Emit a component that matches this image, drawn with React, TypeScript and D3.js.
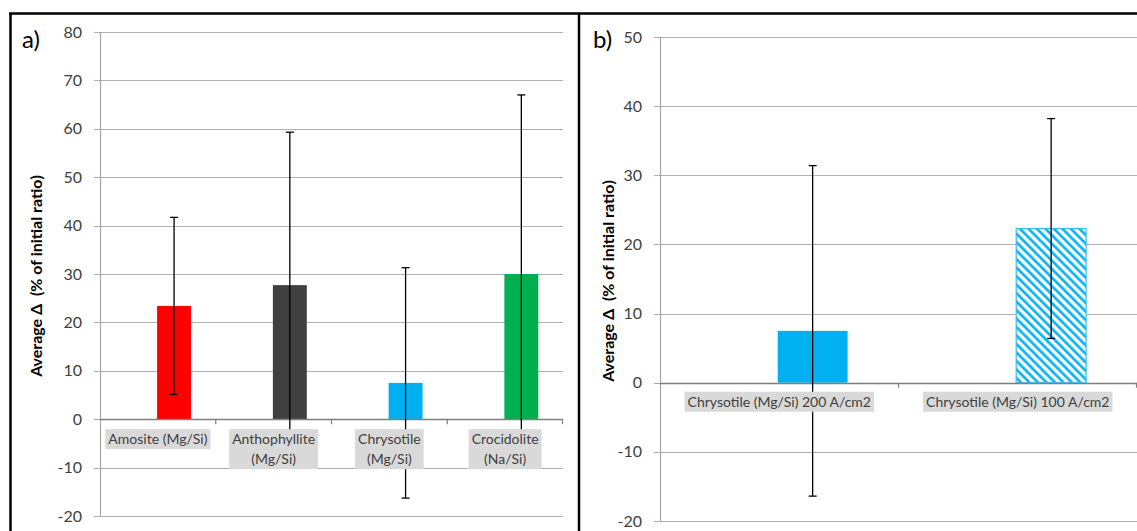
import React, { useEffect, useRef } from "react";
import * as d3 from "d3";

// ---------- data ----------
const labelsA: string[][] = [
  ["Amosite (Mg/Si)"],
  ["Anthophyllite", "(Mg/Si)"],
  ["Chrysotile", "(Mg/Si)"],
  ["Crocidolite", "(Na/Si)"],
];
const valuesA = [23.4, 27.7, 7.5, 30.0];
const errorsA = [18.3, 31.6, 23.8, 37.0];
const colorsA = ["#ff0000", "#404040", "#00b0f0", "#00b050"];
const ticksA = [-20, -10, 0, 10, 20, 30, 40, 50, 60, 70, 80];

const labelsB: string[][] = [
  ["Chrysotile (Mg/Si) 200 A/cm2"],
  ["Chrysotile (Mg/Si) 100 A/cm2"],
];
const valuesB = [7.5, 22.3];
const errorsB = [23.9, 15.9];
const stylesB = ["solid", "hatch"];
const ticksB = [-20, -10, 0, 10, 20, 30, 40, 50];

const yTitle = "Average \u0394  (% of initial ratio)";

const FONT = "Lato, 'Noto Sans', sans-serif";

type Panel = {
  id: string;
  letter: string;
  letterX: number;
  titleX: number;
  x0: number;
  x1: number;
  yTopPx: number;
  yBotPx: number;
  ticks: number[];
  labels: string[][];
  values: number[];
  errors: number[];
  fills: string[];
  labelGap: number;
};

export default function App() {
  const ref = useRef<SVGSVGElement>(null);

  useEffect(() => {
    const svg = d3.select(ref.current);
    svg.selectAll("*").remove();

    const defs = svg.append("defs");
    const pat = defs
      .append("pattern")
      .attr("id", "hatch")
      .attr("patternUnits", "userSpaceOnUse")
      .attr("width", 6)
      .attr("height", 6)
      .attr("patternTransform", "rotate(-45)");
    pat.append("rect").attr("width", 6).attr("height", 6).attr("fill", "#fff");
    pat
      .append("line")
      .attr("x1", 1.5)
      .attr("y1", 0)
      .attr("x2", 1.5)
      .attr("y2", 6)
      .attr("stroke", "#00b0f0")
      .attr("stroke-width", 2.6);

    const panels: Panel[] = [
      {
        id: "a",
        letter: "a)",
        letterX: 22,
        titleX: 36,
        x0: 100,
        x1: 563,
        yTopPx: 32,
        yBotPx: 516,
        ticks: ticksA,
        labels: labelsA,
        values: valuesA,
        errors: errorsA,
        fills: colorsA,
        labelGap: 10,
      },
      {
        id: "b",
        letter: "b)",
        letterX: 593,
        titleX: 608,
        x0: 660,
        x1: 1137,
        yTopPx: 37,
        yBotPx: 521,
        ticks: ticksB,
        labels: labelsB,
        values: valuesB,
        errors: errorsB,
        fills: stylesB.map((s) => (s === "hatch" ? "url(#hatch)" : "#00b0f0")),
        labelGap: 9,
      },
    ];

    panels.forEach((p) => {
      const g = svg.append("g");
      const y = d3
        .scaleLinear()
        .domain([p.ticks[0], p.ticks[p.ticks.length - 1]])
        .range([p.yBotPx, p.yTopPx]);
      const x = d3
        .scaleBand<number>()
        .domain(p.values.map((_, i) => i))
        .range([p.x0, p.x1])
        .padding(0);
      const bw = x.bandwidth();
      const barW = bw * 0.293;
      const barCenter = (i: number) => (x(i) as number) + bw * 0.5 + bw * 0.14;

      // gridlines
      g.selectAll("line.grid")
        .data(p.ticks.filter((t) => t !== 0))
        .join("line")
        .attr("x1", p.x0 - 6)
        .attr("x2", p.x1)
        .attr("y1", (d) => Math.round(y(d)) + 0.5)
        .attr("y2", (d) => Math.round(y(d)) + 0.5)
        .attr("stroke", "#b0b0b0")
        .attr("stroke-width", 1.2);

      // y axis line
      g.append("line")
        .attr("x1", p.x0 + 0.5)
        .attr("x2", p.x0 + 0.5)
        .attr("y1", y(p.ticks[p.ticks.length - 1]))
        .attr("y2", y(p.ticks[0]))
        .attr("stroke", "#a6a6a6")
        .attr("stroke-width", 1.2);

      // tick labels
      g.selectAll("text.tick")
        .data(p.ticks)
        .join("text")
        .attr("x", p.x0 - 18)
        .attr("y", (d) => y(d))
        .attr("dy", "0.35em")
        .attr("text-anchor", "end")
        .attr("font-family", FONT)
        .attr("font-size", 16)
        .attr("fill", "#404040")
        .text((d) => String(d));

      // bars
      g.selectAll("rect.bar")
        .data(p.values)
        .join("rect")
        .attr("x", (_, i) => barCenter(i) - barW / 2)
        .attr("width", barW)
        .attr("y", (d) => y(Math.max(0, d)))
        .attr("height", (d) => Math.abs(y(d) - y(0)))
        .attr("fill", (_, i) => p.fills[i])
        .attr("stroke", (_, i) => (p.fills[i].startsWith("url") ? "#33bff2" : "none"))
        .attr("stroke-width", 1.2);

      // zero axis
      g.append("line")
        .attr("x1", p.x0)
        .attr("x2", p.x1)
        .attr("y1", Math.round(y(0)) + 0.5)
        .attr("y2", Math.round(y(0)) + 0.5)
        .attr("stroke", "#7f7f7f")
        .attr("stroke-width", 1.4);
      g.append("line")
        .attr("x1", p.x0 - 6)
        .attr("x2", p.x0)
        .attr("y1", Math.round(y(0)) + 0.5)
        .attr("y2", Math.round(y(0)) + 0.5)
        .attr("stroke", "#a6a6a6");
      const bounds = p.values.map((_, i) => x(i) as number).concat([p.x1 - 0.5]);
      g.selectAll("line.ctick")
        .data(bounds.slice(1))
        .join("line")
        .attr("x1", (d) => d)
        .attr("x2", (d) => d)
        .attr("y1", y(0))
        .attr("y2", y(0) + 5)
        .attr("stroke", "#7f7f7f")
        .attr("stroke-width", 1.2);

      // error bars
      const eb = g
        .selectAll("g.err")
        .data(p.values.map((v, i) => ({ v, e: p.errors[i], i })))
        .join("g");
      eb.append("line")
        .attr("x1", (d) => barCenter(d.i))
        .attr("x2", (d) => barCenter(d.i))
        .attr("y1", (d) => y(d.v + d.e))
        .attr("y2", (d) => y(d.v - d.e))
        .attr("stroke", "#000")
        .attr("stroke-width", 1.3);
      [1, -1].forEach((s) => {
        eb.append("line")
          .attr("x1", (d) => barCenter(d.i) - 4)
          .attr("x2", (d) => barCenter(d.i) + 4)
          .attr("y1", (d) => y(d.v + s * d.e))
          .attr("y2", (d) => y(d.v + s * d.e))
          .attr("stroke", "#000")
          .attr("stroke-width", 1.3);
      });

      // category labels with grey background
      p.labels.forEach((lines, i) => {
        const cx = (x(i) as number) + bw / 2;
        const top = y(0) + p.labelGap;
        const lg = g.append("g");
        const rect = lg.append("rect").attr("fill", "#d9d9d9");
        const texts = lines.map((ln, k) =>
          lg
            .append("text")
            .attr("x", cx)
            .attr("y", top + 10 + k * 20)
            .attr("dy", "0.35em")
            .attr("text-anchor", "middle")
            .attr("font-family", FONT)
            .attr("font-size", 14)
            .attr("fill", "#404040")
            .text(ln)
        );
        const maxW = d3.max(texts, (t) => (t.node() as SVGTextElement).getComputedTextLength()) || 0;
        rect
          .attr("x", cx - maxW / 2 - 3)
          .attr("width", maxW + 6)
          .attr("y", top)
          .attr("height", lines.length * 20);
      });

      // y title
      const midY = (p.yTopPx + p.yBotPx) / 2 + 2;
      g.append("text")
        .attr("transform", `translate(${p.titleX},${midY}) rotate(-90)`)
        .attr("text-anchor", "middle")
        .attr("dy", "0.35em")
        .attr("font-family", FONT)
        .attr("font-weight", "bold")
        .attr("font-size", 16)
        .attr("fill", "#000")
        .attr("xml:space", "preserve")
        .style("white-space", "pre")
        .text(yTitle);

      // panel letter
      g.append("text")
        .attr("x", p.letterX)
        .attr("y", 48)
        .attr("font-family", FONT)
        .attr("font-size", 24)
        .attr("fill", "#000")
        .text(p.letter);
    });

    // frame
    const fr = svg.append("g").attr("stroke", "#000").attr("stroke-width", 2.5);
    fr.append("line").attr("x1", 9).attr("x2", 1137).attr("y1", 13.5).attr("y2", 13.5);
    fr.append("line").attr("x1", 10.5).attr("x2", 10.5).attr("y1", 13).attr("y2", 531);
    fr.append("line").attr("x1", 579).attr("x2", 579).attr("y1", 13).attr("y2", 531);
  }, []);

  return (
    <svg
      ref={ref}
      width={1137}
      height={531}
      style={{ position: "absolute", left: 0, top: 0, background: "#fff" }}
    />
  );
}
